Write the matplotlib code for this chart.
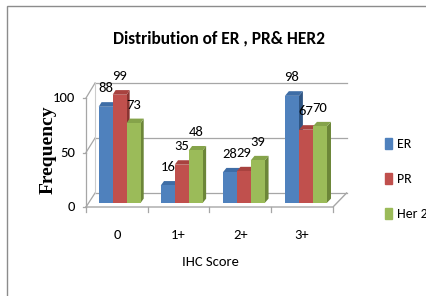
import matplotlib

matplotlib.use("Agg")
import matplotlib.pyplot as plt
from matplotlib.patches import Patch, Rectangle

categories = ["0", "1+", "2+", "3+"]
series_names = ["ER", "PR", "Her 2"]
er_values = [88, 16, 28, 98]
pr_values = [99, 35, 29, 67]
her2_values = [73, 48, 39, 70]
y_ticks = [0, 50, 100]

front_colors = ["#4F81BD", "#C0504D", "#9BBB59"]
top_colors = ["#3E6DA6", "#A8423F", "#85A34A"]
side_colors = ["#2F5583", "#8A3431", "#6C8638"]

SANS = ["Carlito", "DejaVu Sans"]
SERIF = ["Liberation Serif", "DejaVu Serif"]
PX_X = 61.5   # pixels per category
PX_Y = 1.09   # pixels per value unit


def proj(x, v, d):
    """Oblique projection: d=0 front plane, d=1 back wall."""
    dx_px = 9 + 4.5 * (x + 0.5) / 4
    dy_px = 14 + 0.01 * v
    return x + d * dx_px / PX_X, v + d * dy_px / PX_Y


def face(ax, pts, color, z):
    xs, ys = zip(*pts)
    ax.fill(xs, ys, color=color, lw=0, zorder=z, clip_on=False)


fig = plt.figure(figsize=(4.27, 2.96), dpi=100)
W, H = 427, 296
ax = fig.add_axes([86 / W, (H - 207) / H, 247 / W, 109 / H])
ax.set_xlim(-0.5, 3.5)
ax.set_ylim(0, 100)
ax.axis("off")

# outer frame
fig.patches.append(Rectangle((7 / W, -0.1), 1.2, (H - 6) / H + 0.1,
                             transform=fig.transFigure, fill=False,
                             ec="#8c8c8c", lw=1.0))

grid_c = "#a6a6a6"
x0, x1 = -0.5, 3.5
# back wall gridlines + side wall lines
for t in y_ticks:
    bx0, by0 = proj(x0, t, 1)
    bx1, by1 = proj(x1, t, 1)
    ax.plot([bx0, bx1], [by0, by1], color=grid_c, lw=0.9, clip_on=False, zorder=1)
    ax.plot([x0, bx0], [t, by0], color=grid_c, lw=0.9, clip_on=False, zorder=1)
    ax.plot([x0 - 0.05, x0], [t, t], color=grid_c, lw=0.9, clip_on=False, zorder=1)
    ax.text(x0 - 0.18, t, str(t), ha="right", va="center", fontsize=10.5,
            family=SANS)
bxa, bya = proj(x0, 0, 1)
bxb, byb = proj(x0, 100, 1)
ax.plot([bxa, bxb], [bya, byb], color="#cccccc", lw=0.8, clip_on=False, zorder=1)
ax.plot([x0, x0], [0, 100], color=grid_c, lw=0.9, clip_on=False, zorder=1)

# floor
fx, fy = proj(x1, 0, 1)
ax.plot([x0, x1, fx], [0, 0, fy], color=grid_c, lw=1.0, clip_on=False, zorder=1)
for k in range(len(categories) + 1):
    ax.plot([x0 + k, x0 + k], [0, -5], color=grid_c, lw=0.9, clip_on=False)

# bars
values = [er_values, pr_values, her2_values]
bw = 0.225
d0, d1 = 0.29, 0.6
for ci in range(len(categories)):
    for si, vals in enumerate(values):
        v = vals[ci]
        xl = ci + (si - 1.5) * bw
        xr = xl + bw
        fl0, fl1 = proj(xl, 0, d0), proj(xr, 0, d0)
        ft0, ft1 = proj(xl, v, d0), proj(xr, v, d0)
        bt0, bt1 = proj(xl, v, d1), proj(xr, v, d1)
        bb1 = proj(xr, 0, d1)
        z = 3 + ci * 3 + si
        face(ax, [fl1, bb1, bt1, ft1], side_colors[si], z)
        face(ax, [ft0, ft1, bt1, bt0], top_colors[si], z)
        face(ax, [fl0, fl1, ft1, ft0], front_colors[si], z)
        lx = (ft0[0] + ft1[0]) / 2
        ax.text(lx, ft1[1] + 17, str(v), ha="center", va="center",
                fontsize=10.5, family=SANS, zorder=20)

# category labels
for ci, c in enumerate(categories):
    ax.text(ci, -26, c, ha="center", va="center", fontsize=10.5, family=SANS)

fig.text(210 / W, 1 - 262 / H, "IHC Score", ha="center", va="center",
         fontsize=10.5, family=SANS)
fig.text(48 / W, 1 - 150 / H, "Frequency", rotation=90, ha="center",
         va="center", fontsize=14, fontweight="bold", family=SERIF)
fig.text(219 / W, 1 - 39 / H, "Distribution of ER , PR& HER2", ha="center",
         va="center", fontsize=12.5, fontweight="bold", family=SANS)

handles = [Patch(color=c) for c in front_colors]
fig.legend(handles, series_names, loc="center left",
           bbox_to_anchor=(373 / W, 1 - 179 / H), frameon=False,
           prop={"family": SANS, "size": 10}, handlelength=0.45,
           handleheight=0.9, handletextpad=0.4, labelspacing=1.6)

fig.savefig("out.png", dpi=100)
